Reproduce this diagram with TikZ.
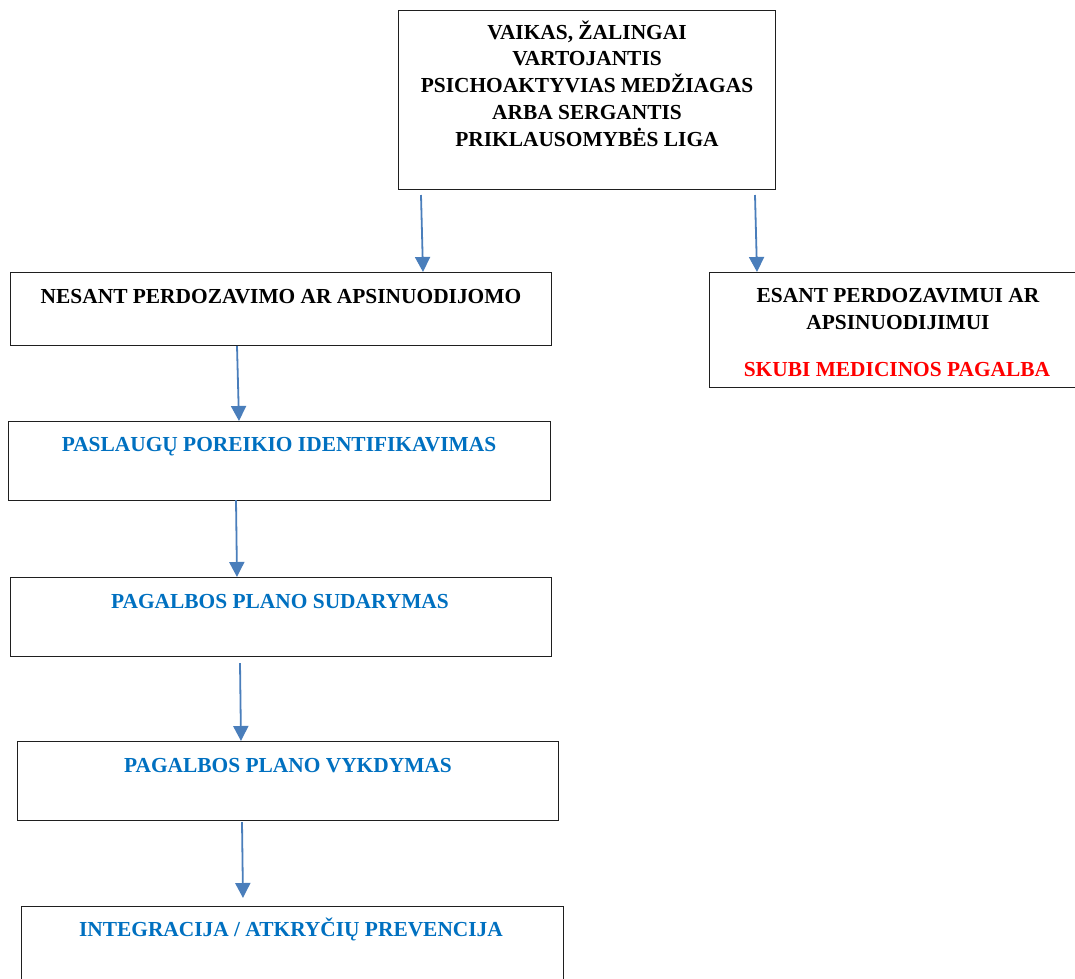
\documentclass[tikz,border=0pt]{standalone}
\usepackage{fontspec}
\setmainfont{Liberation Serif}
\usetikzlibrary{arrows.meta}
\definecolor{arrowblue}{HTML}{4A7EBB}
\definecolor{textblue}{HTML}{0070C0}
\definecolor{textred}{HTML}{FF0000}
\definecolor{frame}{HTML}{1F1F1F}
\tikzset{
  boxnode/.style={draw=frame, line width=1.4pt, rectangle, inner sep=0pt, anchor=north west},
  txt/.style={font=\fontsize{21.4}{26.7}\selectfont\bfseries, inner sep=0pt, anchor=base, align=center},
  flow/.style={draw=arrowblue, line width=1.8pt, -{Triangle[width=15pt,length=15pt]}}
}
\begin{document}
\begin{tikzpicture}[x=1pt,y=-1pt]
\useasboundingbox (0,0) rectangle (1075,978);
\clip (0,0) rectangle (1075,978);
% boxes
\node[boxnode, minimum width=377pt, minimum height=179pt] (top) at (398,10) {};
\node[boxnode, minimum width=541pt, minimum height=73pt] (b1) at (10,272) {};
\node[boxnode, minimum width=380pt, minimum height=115pt] (r1) at (709,272) {};
\node[boxnode, minimum width=542pt, minimum height=79pt] (b2) at (8,421) {};
\node[boxnode, minimum width=541pt, minimum height=79pt] (b3) at (10,577) {};
\node[boxnode, minimum width=541pt, minimum height=79pt] (b4) at (17,741) {};
\node[boxnode, minimum width=542pt, minimum height=100pt] (b5) at (21,906) {};
% texts (base anchor = baseline of the last line)
\node[txt] (ttop) at (587,146) {VAIKAS, ŽALINGAI\\VARTOJANTIS\\PSICHOAKTYVIAS MEDŽIAGAS\\ARBA SERGANTIS\\PRIKLAUSOMYBĖS LIGA};
\node[txt] (t1) at (281,303) {NESANT PERDOZAVIMO AR APSINUODIJOMO};
\node[txt] (tr1) at (898,329.3) {ESANT PERDOZAVIMUI AR\\APSINUODIJIMUI};
\node[txt, text=textred] (tr2) at (897,376) {SKUBI MEDICINOS PAGALBA};
\node[txt, text=textblue] (t2) at (279,451) {PASLAUGŲ POREIKIO IDENTIFIKAVIMAS};
\node[txt, text=textblue] (t3) at (280,608) {PAGALBOS PLANO SUDARYMAS};
\node[txt, text=textblue] (t4) at (288,772) {PAGALBOS PLANO VYKDYMAS};
\node[txt, text=textblue] (t5) at (291,936) {INTEGRACIJA / ATKRYČIŲ PREVENCIJA};
% arrow endpoints
\coordinate (s1) at (421,195);
\coordinate (e1) at (423,272);
\coordinate (s2) at (755,195);
\coordinate (e2) at (757,272);
\coordinate (s3) at (237,346);
\coordinate (e3) at (239,421);
\coordinate (s4) at (236,500);
\coordinate (e4) at (237,577);
\coordinate (s5) at (240,663);
\coordinate (e5) at (241,741);
\coordinate (s6) at (242,822);
\coordinate (e6) at (243,898);
\draw[flow] (s1) -- (e1);
\draw[flow] (s2) -- (e2);
\draw[flow] (s3) -- (e3);
\draw[flow] (s4) -- (e4);
\draw[flow] (s5) -- (e5);
\draw[flow] (s6) -- (e6);
\end{tikzpicture}
\end{document}
